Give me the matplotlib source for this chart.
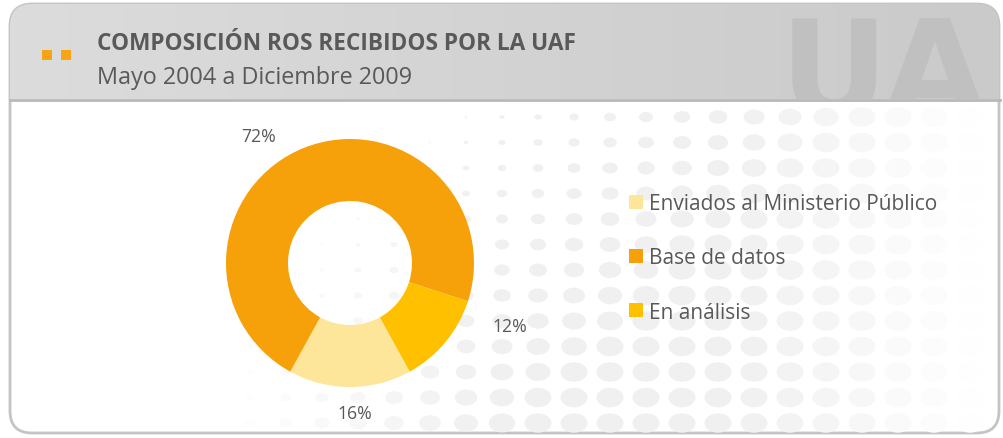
import numpy as np
import matplotlib
matplotlib.use("Agg")
import matplotlib.pyplot as plt
from matplotlib.patches import FancyBboxPatch, Rectangle
from matplotlib.collections import EllipseCollection
from matplotlib.colors import LinearSegmentedColormap

plt.rcParams['font.family'] = ['Open Sans', 'DejaVu Sans']

# data
title = "COMPOSICIÓN ROS RECIBIDOS POR LA UAF"
subtitle = "Mayo 2004 a Diciembre 2009"
categories = ["Enviados al Ministerio Público", "Base de datos", "En análisis"]
shares = [16, 72, 12]
colors = ["#FDE59A", "#F6A10A", "#FFC000"]

# label placement (angle shift from wedge middle, radius)
label_shift = [2, 14, 18]
label_radius = [1.21, 1.26, 1.39]

TXT = "#595959"
W, H = 1004, 439
fig = plt.figure(figsize=(W / 100, H / 100), dpi=100)

# background axes in pixel coordinates
bg = fig.add_axes([0, 0, 1, 1])
bg.axis('off')

frame = FancyBboxPatch((10, 5), 989, 429, boxstyle="round,pad=0,rounding_size=22",
                       fc='white', ec='#c4c4c4', lw=2, zorder=1)
bg.add_patch(frame)

# header gradient
grad = np.linspace(0, 1, 256).reshape(1, -1)
cmap = LinearSegmentedColormap.from_list('hdr', ['#dcdcdc', '#cacaca'])
img = bg.imshow(grad, extent=(10, 1000, 100, 5), cmap=cmap, aspect='auto', zorder=2)
img.set_clip_path(frame)
bg.plot([10, 1000], [100.5, 100.5], color='#b8b8b8', lw=2, zorder=3)

# watermark
wm = bg.text(780, 116, "UAF", fontsize=96, fontweight='bold', color='#c0c0c0',
             family='DejaVu Sans', ha='left', va='baseline', zorder=3, clip_on=True)
wm.set_clip_path(Rectangle((10, 5), 988, 95, transform=bg.transData))

# header squares and titles
for x0 in (42, 61):
    bg.add_patch(Rectangle((x0, 51), 10, 10, fc='#F7A513', ec='none', zorder=4))
bg.text(97, 50, title, fontsize=16.3, fontweight='bold', color=TXT, va='baseline', zorder=4)
bg.text(97, 84, subtitle, fontsize=16.8, color=TXT, va='baseline', zorder=4)

# dotted pattern
xs = np.arange(250, 990, 36)
ys = np.arange(118, 440, 25.5)
X, Y = np.meshgrid(xs, ys)
u = (X - 430) / 400 + (Y - 110) / 360
wd = np.clip(25 * u, 0, 27)
ht = 0.72 * wd
fade = np.clip((985 - X) / 250, 0, 1) * np.clip((X - 220) / 260, 0, 1)
gray = 1 - 0.06 * fade.ravel()
fc = np.column_stack([gray, gray, gray])
dots = EllipseCollection(wd.ravel(), ht.ravel(), np.zeros(X.size), units='xy',
                         offsets=np.column_stack([X.ravel(), Y.ravel()]),
                         offset_transform=bg.transData, facecolors=fc,
                         edgecolors='none', zorder=2)
dots.set_clip_path(Rectangle((12, 103), 986, 330, transform=bg.transData))
bg.add_collection(dots)

bg.set_xlim(0, W)
bg.set_ylim(H, 0)

# donut
cx, cy, r = 350, 264, 124
pax = fig.add_axes([(cx - r) / W, (H - cy - r) / H, 2 * r / W, 2 * r / H])
wedges, _ = pax.pie(shares, colors=colors, startangle=-61.2, counterclock=False,
                    radius=1, wedgeprops=dict(width=0.5, linewidth=0))
pax.set_xlim(-1, 1)
pax.set_ylim(-1, 1)
pax.set_zorder(5)
for w, v, sh, rr in zip(wedges, shares, label_shift, label_radius):
    ang = np.deg2rad((w.theta1 + w.theta2) / 2 + sh)
    pax.text(rr * np.cos(ang), rr * np.sin(ang), f"{v}%", fontsize=12.7, color=TXT,
             ha='center', va='center', clip_on=False)

leg = pax.legend(wedges, categories, loc='upper left', bbox_to_anchor=(629 / W, 1 - 194 / H),
                 bbox_transform=fig.transFigure, frameon=False, fontsize=15,
                 handlelength=0.67, handleheight=0.67, handletextpad=0.3,
                 labelspacing=1.6, borderpad=0, borderaxespad=0)
for t in leg.get_texts():
    t.set_color(TXT)

fig.savefig("out.png", dpi=100)
